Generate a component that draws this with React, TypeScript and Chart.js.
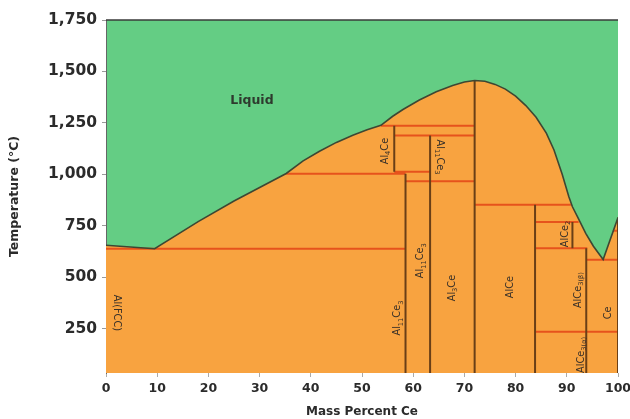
import React, { useEffect, useRef } from "react";
import { Chart, registerables } from "chart.js";

Chart.register(...registerables);

// ---- Data ----
const xTicks = [0, 10, 20, 30, 40, 50, 60, 70, 80, 90, 100];
const yTicks = [250, 500, 750, 1000, 1250, 1500, 1750];
const X_MIN = 0;
const X_MAX = 100;
const Y_MIN = 34;
const Y_MAX = 1750;

// Liquidus (mass % Ce, temperature °C)
const liquidusX = [0, 9.5, 18, 25, 35.2, 38.5, 41.7, 45, 48.2, 51, 53.7, 56, 58, 61.2, 64.5, 67.7, 70, 72, 74, 76, 78, 80, 82, 84, 86, 87.5, 89.1, 90.4, 91.1, 92.1, 93.7, 95.2, 97.1, 100];
const liquidusY = [655, 638, 770, 870, 1004, 1065, 1112, 1155, 1190, 1216, 1238, 1282, 1315, 1361, 1401, 1432, 1449, 1456, 1452, 1437, 1414, 1380, 1334, 1277, 1200, 1118, 1000, 891, 842, 793, 713, 650, 586, 790];

// Invariant (horizontal) lines: [xStart, xEnd, temperature]
const invariantLines: number[][] = [
  [0, 58.5, 638],
  [35.2, 58.5, 1003],
  [56.3, 63.3, 1012],
  [58.5, 72, 966],
  [56.3, 72, 1188],
  [53.7, 72, 1236],
  [72, 90.8, 852],
  [83.8, 92.3, 768],
  [83.8, 94, 640],
  [93.8, 100, 585],
  [83.8, 100, 235],
  [99, 100, 726],
];

// Compound (vertical) lines: [composition, tStart, tEnd]
const compoundLines: number[][] = [
  [56.3, 1012, 1236],
  [58.5, Y_MIN, 1003],
  [63.3, Y_MIN, 1188],
  [72, Y_MIN, 1456],
  [83.8, Y_MIN, 852],
  [91.1, 640, 768],
  [93.8, Y_MIN, 640],
  [100, Y_MIN, 790],
];

// Phase labels: text (with _{sub}), composition, temperature, rotation
const labelTexts = ["Liquid", "Al(FCC)", "Al_{11}Ce_{3}", "Al_{4}Ce", "Al_{11}Ce_{3}", "Al_{11}Ce_{3}", "Al_{3}Ce", "AlCe", "AlCe_{2}", "AlCe_{3(β)}", "AlCe_{3(α)}", "Ce"];
const labelX = [28.5, 2.1, 57.0, 54.5, 65.2, 61.5, 67.6, 78.9, 89.8, 92.2, 92.8, 98.2];
const labelY = [1356, 326, 301, 1113, 1084, 580, 447, 452, 710, 437, 122, 326];
const labelRot = [0, 90, -90, -90, 90, -90, -90, -90, -90, -90, -90, -90];

// ---- Styles ----
const GREEN = "#64cd84";
const ORANGE = "#f8a340";
const RED = "#e6531c";
const BROWN = "#6a3f17";
const LIQ_LINE = "#3e4733";
const TEXT = "#2b2b2b";
const FONT = "'DejaVu Sans', sans-serif";

function segmentsH(lines: number[][]) {
  const out: any[] = [];
  lines.forEach(([x1, x2, y]) => {
    out.push({ x: x1, y }, { x: x2, y }, { x: x2, y: null });
  });
  return out;
}
function segmentsV(lines: number[][]) {
  const out: any[] = [];
  lines.forEach(([x, y1, y2]) => {
    out.push({ x, y: y1 }, { x, y: y2 }, { x, y: null });
  });
  return out;
}

function parseRich(s: string): [string, boolean][] {
  const parts: [string, boolean][] = [];
  const re = /_\{([^}]*)\}/g;
  let last = 0;
  let m: RegExpExecArray | null;
  while ((m = re.exec(s))) {
    if (m.index > last) parts.push([s.slice(last, m.index), false]);
    parts.push([m[1], true]);
    last = m.index + m[0].length;
  }
  if (last < s.length) parts.push([s.slice(last), false]);
  return parts;
}

const bgPlugin = {
  id: "greenBg",
  beforeDraw(chart: any) {
    const { ctx, chartArea: a } = chart;
    ctx.save();
    ctx.fillStyle = "#ffffff";
    ctx.fillRect(0, 0, chart.width, chart.height);
    ctx.fillStyle = GREEN;
    ctx.fillRect(a.left, a.top, a.right - a.left, a.bottom - a.top);
    ctx.restore();
  },
};

const labelPlugin = {
  id: "phaseLabels",
  afterDatasetsDraw(chart: any) {
    const { ctx, scales } = chart;
    const xs = scales.x;
    const ys = scales.y;
    labelTexts.forEach((t, i) => {
      const px = xs.getPixelForValue(labelX[i]);
      const py = ys.getPixelForValue(labelY[i]);
      const isLiquid = i === 0;
      const size = isLiquid ? 12.5 : 9.8;
      const weight = isLiquid ? "bold" : "normal";
      const parts = parseRich(t);
      ctx.save();
      ctx.translate(px, py);
      ctx.rotate((labelRot[i] * Math.PI) / 180);
      ctx.fillStyle = isLiquid ? "#2e3a2e" : "#3a3128";
      ctx.textBaseline = "middle";
      ctx.textAlign = "left";
      let total = 0;
      const widths = parts.map(([txt, sub]) => {
        ctx.font = `${weight} ${sub ? size * 0.68 : size}px ${FONT}`;
        const w = ctx.measureText(txt).width;
        total += w;
        return w;
      });
      let cx = -total / 2;
      parts.forEach(([txt, sub], k) => {
        ctx.font = `${weight} ${sub ? size * 0.68 : size}px ${FONT}`;
        ctx.fillText(txt, cx, sub ? size * 0.3 : 0);
        cx += widths[k];
      });
      ctx.restore();
    });
  },
  afterDraw(chart: any) {
    const { ctx, chartArea: a } = chart;
    ctx.save();
    ctx.strokeStyle = "#3a3a3a";
    ctx.lineWidth = 1.5;
    ctx.beginPath();
    ctx.moveTo(a.left, a.top);
    ctx.lineTo(a.right, a.top);
    ctx.stroke();
    ctx.restore();
  },
};

export default function App() {
  const ref = useRef<HTMLCanvasElement | null>(null);

  useEffect(() => {
    if (!ref.current) return;
    const liquidus = liquidusX.map((x, i) => ({ x, y: liquidusY[i] }));
    const chart = new Chart(ref.current, {
      type: "line",
      data: {
        datasets: [
          {
            label: "Liquidus",
            data: liquidus,
            borderColor: LIQ_LINE,
            borderWidth: 1.6,
            backgroundColor: ORANGE,
            fill: "start",
            pointRadius: 0,
            tension: 0,
          },
          {
            label: "Compounds",
            data: segmentsV(compoundLines),
            borderColor: BROWN,
            borderWidth: 2,
            fill: false,
            pointRadius: 0,
            spanGaps: false,
          },
          {
            label: "Invariants",
            data: segmentsH(invariantLines),
            borderColor: RED,
            borderWidth: 2,
            fill: false,
            pointRadius: 0,
            spanGaps: false,
          },
        ],
      } as any,
      options: {
        animation: false,
        responsive: false,
        maintainAspectRatio: false,
        layout: { padding: { left: 0, top: 20, right: 0, bottom: 0 } },
        plugins: {
          legend: { display: false },
          tooltip: { enabled: false },
          filler: { drawTime: "beforeDatasetsDraw" } as any,
        },
        scales: {
          x: {
            type: "linear",
            min: X_MIN,
            max: X_MAX,
            afterBuildTicks: (s: any) => {
              s.ticks = xTicks.map((v) => ({ value: v }));
            },
            afterFit: (s: any) => {
              s.height = 46;
              s.paddingRight = 12;
              s.paddingLeft = 0;
            },
            grid: { drawOnChartArea: false, drawTicks: true, tickLength: 4, color: "#aaaaaa" },
            border: { display: false },
            ticks: {
              padding: 4,
              color: TEXT,
              font: { family: FONT, size: 12.5, weight: "bold" },
              maxRotation: 0,
              autoSkip: false,
              callback: (v: any) => String(v),
            },
            title: {
              display: true,
              text: "Mass Percent Ce",
              color: TEXT,
              font: { family: FONT, size: 12, weight: "bold" },
              padding: { top: 0, bottom: 0 },
            },
          },
          y: {
            type: "linear",
            min: Y_MIN,
            max: Y_MAX,
            afterBuildTicks: (s: any) => {
              s.ticks = yTicks.map((v) => ({ value: v }));
            },
            afterFit: (s: any) => {
              s.width = 106;
            },
            grid: { drawOnChartArea: false, drawTicks: true, tickLength: 4, color: "#999999" },
            border: { display: true, color: "#666666", width: 1 },
            ticks: {
              padding: 5,
              color: TEXT,
              font: { family: FONT, size: 15.5, weight: "bold" },
              autoSkip: false,
              callback: (v: any) => Number(v).toLocaleString("en-US"),
            },
            title: {
              display: true,
              text: "Temperature (°C)",
              color: TEXT,
              font: { family: FONT, size: 12.5, weight: "bold" },
              padding: { top: 7, bottom: 0 },
            },
          },
        },
      } as any,
      plugins: [bgPlugin, labelPlugin],
    });
    return () => chart.destroy();
  }, []);

  return (
    <div style={{ position: "absolute", left: 0, top: 0, width: 630, height: 419, background: "#fff" }}>
      <canvas ref={ref} width={630} height={419} style={{ width: 630, height: 419, display: "block" }} />
    </div>
  );
}
